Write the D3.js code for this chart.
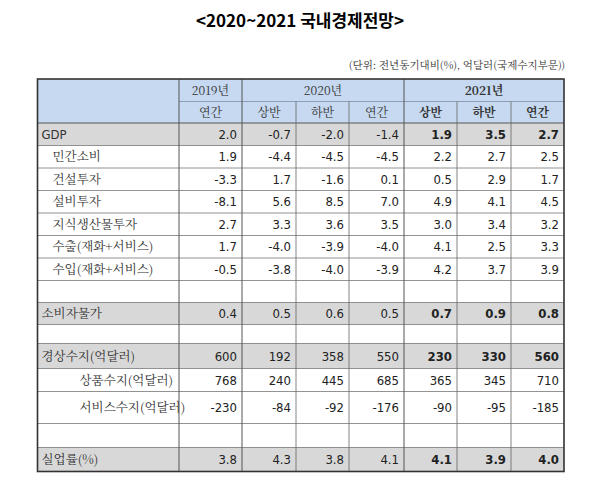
<!DOCTYPE html>
<html><head><meta charset="utf-8">
<script src="https://cdn.jsdelivr.net/npm/d3@7"></script>
<style>body{margin:0;background:#fff}</style></head>
<body><svg id="c" width="600" height="485"></svg>
<script>
const title="<2020~2021 국내경제전망>";
const unit="(단위: 전년동기대비(%), 억달러(국제수지부문))";
const years=["2019년","2020년","2021년"];
const periods=["연간","상반","하반","연간","상반","하반","연간"];
const labels=["GDP","민간소비","건설투자","설비투자","지식생산물투자","수출(재화+서비스)","수입(재화+서비스)","","소비자물가","","경상수지(억달러)","상품수지(억달러)","서비스수지(억달러)","","실업률(%)"];
const indent=[0,1,1,1,1,1,1,0,0,0,0,2,2,0,0];
const gray=[1,0,0,0,0,0,0,0,1,0,1,0,0,0,1];
const values=[
["2.0","-0.7","-2.0","-1.4","1.9","3.5","2.7"],
["1.9","-4.4","-4.5","-4.5","2.2","2.7","2.5"],
["-3.3","1.7","-1.6","0.1","0.5","2.9","1.7"],
["-8.1","5.6","8.5","7.0","4.9","4.1","4.5"],
["2.7","3.3","3.6","3.5","3.0","3.4","3.2"],
["1.7","-4.0","-3.9","-4.0","4.1","2.5","3.3"],
["-0.5","-3.8","-4.0","-3.9","4.2","3.7","3.9"],
["","","","","","",""],
["0.4","0.5","0.6","0.5","0.7","0.9","0.8"],
["","","","","","",""],
["600","192","358","550","230","330","560"],
["768","240","445","685","365","345","710"],
["-230","-84","-92","-176","-90","-95","-185"],
["","","","","","",""],
["3.8","4.3","3.8","4.1","4.1","3.9","4.0"]];
const rowH=[22.5,22.5,22.5,22.5,22.5,22.5,22.5,22,22,19,25,23,32,24,24];

const svg=d3.select("#c");
const colEdges=[37.5,179,242,296,349,404,457,511,564];
const x=i=>colEdges[i];
const ys=[123];rowH.forEach(h=>ys.push(ys[ys.length-1]+h));
const y=d3.scaleOrdinal().domain(d3.range(ys.length)).range(ys);
const hTop=79,hMid=101.5,hb=123;
const ser="'Noto Serif CJK KR','Noto Sans CJK KR',serif";
const num="'Liberation Sans Narrow','DejaVu Sans Condensed',sans-serif";

svg.append("text").attr("x",300).attr("y",27).attr("text-anchor","middle")
 .attr("font-family","'Noto Sans CJK KR'").attr("font-weight","bold").attr("font-size",17).text(title);
svg.append("text").attr("x",565).attr("y",69).attr("text-anchor","end")
 .attr("font-family",ser).attr("font-size",10.5).attr("fill","#333").text(unit);

svg.append("rect").attr("x",x(0)).attr("y",hTop).attr("width",x(8)-x(0)).attr("height",hb-hTop).attr("fill","#c6d9f0");
labels.forEach((l,i)=>{
 svg.append("rect").attr("x",x(0)).attr("y",y(i)).attr("width",x(8)-x(0)).attr("height",y(i+1)-y(i))
  .attr("fill",gray[i]?"#d8d8d8":"#fff");
});
const line=(x1,y1,x2,y2,c,w)=>svg.append("line").attr("x1",x1).attr("y1",y1).attr("x2",x2).attr("y2",y2).attr("stroke",c).attr("stroke-width",w);
line(x(1),hMid,x(8),hMid,"#7f8fa6",0.8);
ys.forEach((v,i)=>{ if(i>0&&i<ys.length-1) line(x(0),v,x(8),v,"#777",0.8);});
line(x(0),hb,x(8),hb,"#555",1.2);
[1,2,5].forEach(i=>line(x(i),hTop,x(i),ys[ys.length-1],"#555",1));
[3,4,6,7].forEach(i=>line(x(i),hMid,x(i),ys[ys.length-1],"#666",0.8));
svg.append("rect").attr("x",x(0)).attr("y",hTop).attr("width",x(8)-x(0)).attr("height",ys[ys.length-1]-hTop)
 .attr("fill","none").attr("stroke","#333").attr("stroke-width",1.6);

const yspan=[[1,2],[2,5],[5,8]];
years.forEach((t,i)=>svg.append("text").attr("x",(x(yspan[i][0])+x(yspan[i][1]))/2).attr("y",(hTop+hMid)/2+4.5)
 .attr("text-anchor","middle").attr("font-family",ser).attr("font-size",12).attr("fill","#333")
 .attr("font-weight",i==2?"bold":"normal").text(t));
periods.forEach((t,i)=>svg.append("text").attr("x",(x(i+1)+x(i+2))/2).attr("y",(hMid+hb)/2+4.5)
 .attr("text-anchor","middle").attr("font-family",ser).attr("font-size",12).attr("fill","#333")
 .attr("font-weight",i>=4?"bold":"normal").text(t));

labels.forEach((l,i)=>{
 const cy=(y(i)+y(i+1))/2+4.5;
 svg.append("text").attr("x",x(0)+4+indent[i]*(i>10?19:11)).attr("y",cy)
  .attr("font-family",i==0?num:ser).attr("font-size",i==0?13:12.5).attr("fill","#333").text(l);
 values[i].forEach((v,j)=>svg.append("text").attr("x",x(j+2)-5).attr("y",cy).attr("text-anchor","end")
  .attr("font-family",num).attr("font-size",13).attr("fill","#222")
  .attr("font-weight",(j>=4&&gray[i])?"bold":"normal").text(v));
});
</script></body></html>
